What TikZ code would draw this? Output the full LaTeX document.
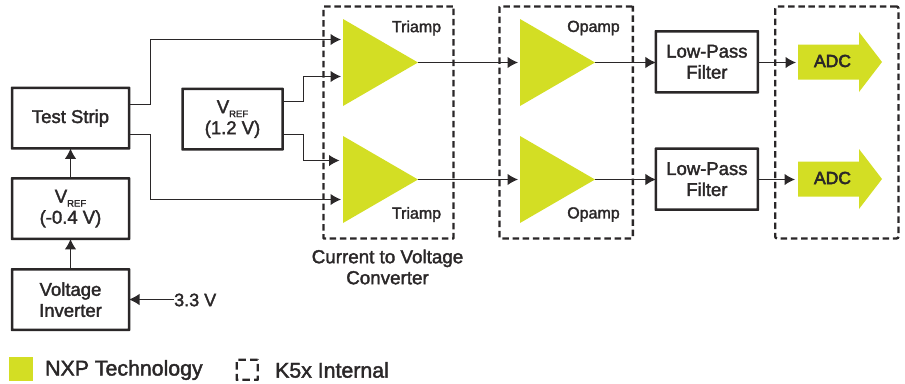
\documentclass[tikz,border=0pt]{standalone}
\usepackage{fontspec}
\setmainfont{Liberation Sans}[FakeBold=1.9]
\newfontfamily\adcfont{Liberation Sans}[FakeBold=3]
\usetikzlibrary{arrows.meta,shapes.geometric,shapes.arrows}
\definecolor{nxp}{HTML}{D3DE24}
\definecolor{ink}{HTML}{2A2728}
\newcommand{\vref}{V\raisebox{-4pt}{\fontsize{9.5}{10}\selectfont REF}}
\tikzset{
 blockbox/.style={draw=ink,line width=2.5pt,rounded corners=0.01pt,fill=white,align=center,inner sep=0pt,outer sep=0pt,text=ink,font=\fontsize{18.5}{21}\selectfont},
 zone/.style={draw=ink,line width=2.3pt,rounded corners=0.5pt,dash pattern=on 6.5pt off 3.7pt},
 amp/.style={isosceles triangle,isosceles triangle stretches,fill=nxp,inner sep=0pt,outer sep=0pt,minimum width=87pt,minimum height=75pt,shape border rotate=0,anchor=apex},
 conn/.style={draw=ink,line width=1.15pt,-{Latex[length=10.5pt,width=11.5pt]}},
 lbl/.style={text=ink,inner sep=0pt,align=center,font=\fontsize{16}{18}\selectfont},
 caption/.style={text=ink,inner sep=0pt,align=center,font=\fontsize{18.8}{21}\selectfont},
 legend/.style={text=ink,inner sep=0pt,anchor=west,font=\fontsize{21.3}{24}\selectfont},
 adcarrow/.style={nxp,fill=nxp},
}
\begin{document}
\begin{tikzpicture}[x=1pt,y=-1pt]
\useasboundingbox (0,0) rectangle (905,383);
% zones
\node[zone,minimum width=130pt,minimum height=232pt,inner sep=0pt,anchor=north west] (z1) at (322.3,5.3) {};
\node[zone,minimum width=133.4pt,minimum height=232pt,inner sep=0pt,anchor=north west] (z2) at (498.3,5.3) {};
\node[zone,minimum width=123.4pt,minimum height=232pt,inner sep=0pt,anchor=north west,rounded corners=2pt] (z3) at (774,5.3) {};
% blocks
\node[blockbox,minimum width=117pt,minimum height=60.5pt] (ts) at (70.5,118.2) {Test Strip};
\node[blockbox,minimum width=117pt,minimum height=60.5pt] (vn) at (70.5,208.7) {\vref\\(-0.4 V)};
\node[blockbox,minimum width=117pt,minimum height=60.5pt] (vi) at (70.5,299.7) {Voltage\\Inverter};
\node[blockbox,minimum width=100pt,minimum height=60.5pt] (vp) at (232.5,119.2) {\vref\\(1.2 V)};
\node[blockbox,minimum width=102pt,minimum height=61pt] (lp1) at (706.9,61.8) {Low-Pass\\Filter};
\node[blockbox,minimum width=102pt,minimum height=61pt] (lp2) at (706.9,179.2) {Low-Pass\\Filter};
% amplifiers
\node[amp] (t1) at (418,62.5) {};
\node[amp] (t2) at (418,179.5) {};
\node[amp] (o1) at (595,62.5) {};
\node[amp] (o2) at (595,179.5) {};
% ADC arrows
\foreach \n/\yy in {a1/62,a2/179}{
 \fill[adcarrow] (798,\yy-17.5) -- (859,\yy-17.5) -- (859,\yy-30) -- (882,\yy) -- (859,\yy+30) -- (859,\yy+17.5) -- (798,\yy+17.5) -- cycle;
 \coordinate (\n) at (798,\yy);
 \node[text=ink,inner sep=0pt,font=\adcfont\fontsize{17.5}{20}\selectfont] (\n t) at (832.5,\yy-1) {ADC};
}
% input coordinates
\coordinate (t1a) at (341,39.5);
\coordinate (t1b) at (341,76.5);
\coordinate (t2a) at (339.5,160.5);
\coordinate (t2b) at (341,199.5);
\coordinate (a1in) at (796,62.5);
\coordinate (a2in) at (795,179.5);
\coordinate (o1in) at (518,62.5);
\coordinate (o2in) at (518,179.5);
% connectors
\draw[conn] (ts.east |- 0,104.5) -- (150.5,104.5) -- (150.5,39.5) -- (t1a);
\draw[conn] (ts.east |- 0,134.5) -- (150.5,134.5) -- (150.5,199.5) -- (t2b);
\draw[conn] (vp.east |- 0,101.5) -- (303.5,101.5) -- (303.5,76.5) -- (t1b);
\draw[conn] (vp.east |- 0,134.5) -- (303.5,134.5) -- (303.5,160.5) -- (t2a);
\draw[conn] (vn.north) -- (ts.south);
\draw[conn] (vi.north) -- (vn.south);
\node[text=ink,inner sep=0pt,anchor=west,font=\fontsize{18}{21}\selectfont] (v33) at (174,300) {3.3 V};
\draw[conn] (v33.west |- 0,299.5) -- (vi.east |- 0,299.5);
\draw[conn] (t1.apex) -- (o1in);
\draw[conn] (t2.apex) -- (o2in);
\draw[conn] (o1.apex) -- (lp1.west |- o1.apex);
\draw[conn] (o2.apex) -- (lp2.west |- o2.apex);
\draw[conn] (lp1.east |- o1.apex) -- (a1in);
\draw[conn] (lp2.east |- o2.apex) -- (a2in);
% labels
\node[lbl] (l1) at (416.5,28) {Triamp};
\node[lbl] (l2) at (416.5,214.5) {Triamp};
\node[lbl] (l3) at (593.5,28) {Opamp};
\node[lbl] (l4) at (593.5,214.5) {Opamp};
\node[caption] (cap) at (387.5,267) {Current to Voltage\\Converter};
% legend
\node[fill=nxp,minimum size=24pt,inner sep=0pt,anchor=north west] (lg1) at (9,357) {};
\node[legend] (lg1t) at (45,370) {NXP Technology};
\node[draw=ink,line width=2.3pt,rounded corners=0.01pt,dash pattern=on 7.5pt off 4.2pt,minimum width=21pt,minimum height=20pt,inner sep=0pt,anchor=north west] (lg2) at (235.5,358.5) {};
\node[legend] (lg2t) at (275,370) {K5x Internal};
\end{tikzpicture}
\end{document}
